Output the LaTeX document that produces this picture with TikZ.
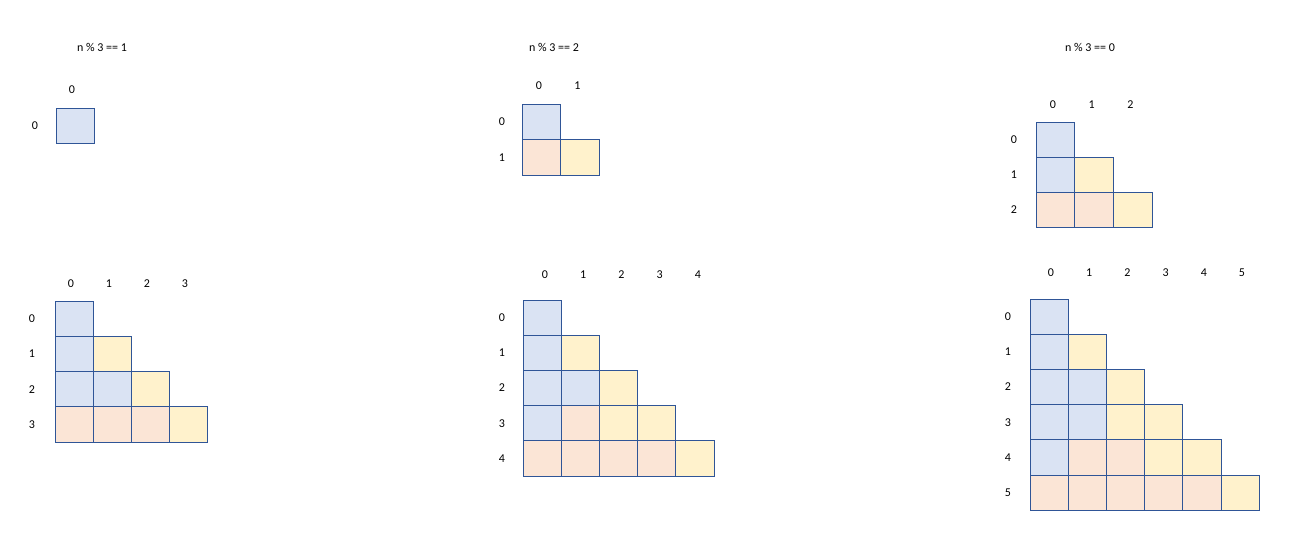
\documentclass[tikz,border=0pt]{standalone}
\usepackage{fontspec}
\setmainfont{Carlito}
\definecolor{cB}{HTML}{DAE3F3}
\definecolor{cP}{HTML}{FBE5D6}
\definecolor{cY}{HTML}{FFF2CC}
\definecolor{edgeblue}{HTML}{2F5597}
\tikzset{
  cell/.style={draw=edgeblue, line width=1pt, inner sep=0pt, outer sep=0pt, anchor=north west},
  lbl/.style={font=\fontsize{12}{14}\selectfont, inner sep=0pt, text=black}
}
\newcommand\drawgrid[9]{%
  \foreach \rowcells [count=\r from 0] in {#6} {
    \foreach \cc [count=\k from 0] in \rowcells {
      \node[cell, fill=c\cc, minimum width=#4pt, minimum height=#5pt] (#1-\r-\k) at ({#2+\k*#4},{#3+\r*#5}) {};
    }
    \node[lbl] (#1-row\r) at (#9, {#3+(\r+0.5)*#5}) {\r};
    \node[lbl] (#1-col\r) at ({#7+\r*#4}, #8) {\r};
  }
}
\begin{document}
\begin{tikzpicture}[x=1pt,y=-1pt]
\useasboundingbox[fill=white] (0,0) rectangle (1314,554);
\node[lbl] (t1) at (102,47) {n \% 3 == 1};
\node[lbl] (t2) at (554,47) {n \% 3 == 2};
\node[lbl] (t3) at (1090,47) {n \% 3 == 0};
\drawgrid{ga}{56}{108}{38}{35}{{B}}{72}{90}{35}
\drawgrid{gb}{522}{104}{38.5}{35.5}{{B},{P,Y}}{539}{86}{502}
\drawgrid{gc}{1036}{122}{38.7}{35}{{B},{B,Y},{P,P,Y}}{1053}{105}{1014}
\drawgrid{gd}{55}{301}{38}{35.25}{{B},{B,Y},{B,B,Y},{P,P,P,Y}}{71}{284}{32}
\drawgrid{ge}{523}{300}{38.2}{35.2}{{B},{B,Y},{B,B,Y},{B,P,Y,Y},{P,P,P,P,Y}}{545}{275}{502}
\drawgrid{gf}{1030}{299}{38.2}{35.2}{{B},{B,Y},{B,B,Y},{B,B,Y,Y},{B,P,P,Y,Y},{P,P,P,P,P,Y}}{1051}{273}{1008}
\end{tikzpicture}
\end{document}
